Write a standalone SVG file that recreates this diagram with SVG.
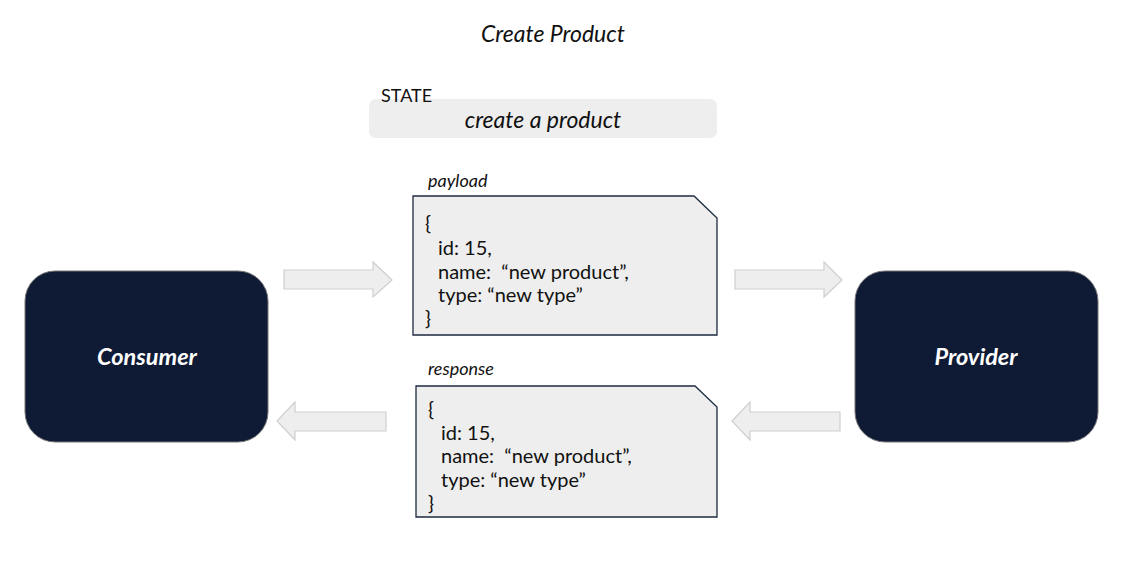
<svg xmlns="http://www.w3.org/2000/svg" width="1123" height="572" viewBox="0 0 1123 572">
<style>
text{font-family:Lato,"Liberation Sans",sans-serif;fill:#111;white-space:pre}
.title{font-size:23px;font-style:italic}
.actor{fill:#0f1b35;stroke:#777;stroke-width:1}
.actorText{font-size:23.5px;font-style:italic;font-weight:bold;fill:#fff}
.doc{fill:#eeeeee;stroke:#1e2a3f;stroke-width:1.3}
.label{font-size:18px;font-style:italic}
.json{font-size:20px}
.arrow{fill:#eeeeee;stroke:#cfcfcf;stroke-width:1.2}
</style>
<rect width="1123" height="572" fill="#fff"/>
<text class="title" x="553" y="42" text-anchor="middle">Create Product</text>
<g id="state">
<rect x="369" y="99" width="348" height="39" rx="7" fill="#eeeeee"/>
<text x="381" y="102" font-size="18">STATE</text>
<text class="title" x="543" y="128" text-anchor="middle">create a product</text>
</g>
<g id="consumer">
<rect class="actor" x="25" y="271" width="243" height="171" rx="30"/>
<text class="actorText" x="147" y="365" text-anchor="middle">Consumer</text>
</g>
<g id="provider">
<rect class="actor" x="855" y="271" width="243" height="171" rx="30"/>
<text class="actorText" x="976" y="365" text-anchor="middle">Provider</text>
</g>
<g id="payload">
<text class="label" x="428" y="187">payload</text>
<path class="doc" d="M413,196 H694 L717,218 V335 H413 Z"/>
<text class="json" x="425" y="230">{</text>
<text class="json" x="438" y="255">id: 15,</text>
<text class="json" x="438" y="279">name:  “new product”,</text>
<text class="json" x="438" y="302">type: “new type”</text>
<text class="json" x="425" y="325">}</text>
</g>
<g id="response">
<text class="label" x="428" y="375">response</text>
<path class="doc" d="M416,386 H695 L717,407 V517 H416 Z"/>
<text class="json" x="428" y="416">{</text>
<text class="json" x="441" y="440">id: 15,</text>
<text class="json" x="441" y="463">name:  “new product”,</text>
<text class="json" x="441" y="487">type: “new type”</text>
<text class="json" x="428" y="510">}</text>
</g>
<g id="connectors">
<path class="arrow" d="M284,270 H373 V262 L392,280 L373,297 V289 H284 Z"/>
<path class="arrow" d="M735,270 H824 V262 L842,280 L824,297 V289 H735 Z"/>
<path class="arrow" d="M386,412 H295 V402 L277,421 L295,440 V431 H386 Z"/>
<path class="arrow" d="M840,412 H750 V402 L732,421 L750,440 V431 H840 Z"/>
</g>
</svg>
